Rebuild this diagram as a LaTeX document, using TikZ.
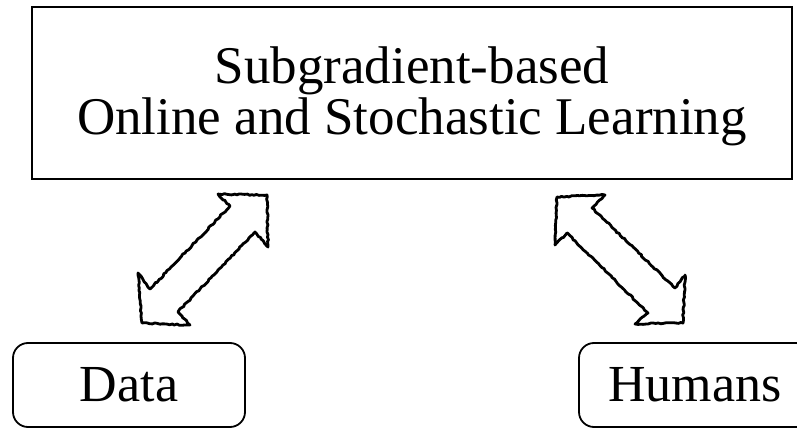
\documentclass[tikz,border=0pt]{standalone}
\usepackage{fontspec}
\setmainfont{Liberation Serif}
\usetikzlibrary{decorations.pathmorphing}
\tikzset{
  mainbox/.style={draw, line width=2.6pt, minimum width=760pt, minimum height=172pt,
    inner sep=0pt},
  titletext/.style={align=center, inner sep=0pt, font=\fontsize{53}{51}\selectfont},
  leafbox/.style={draw, line width=1.8pt, rounded corners=15pt, minimum width=232pt,
    minimum height=84pt, inner sep=0pt, font=\fontsize{52}{52}\selectfont},
  sketch/.style={draw, line width=2.8pt, line join=round,
    decorate, decoration={random steps, segment length=2.5pt, amplitude=0.7pt}}
}
\begin{document}
\begin{tikzpicture}[x=1pt, y=-1pt]
  \useasboundingbox (0,0) rectangle (797,430);

  \node[mainbox] (learn) at (412,93) {};
  \node[titletext] (title) at (412,96.5) {Subgradient-based\\Online and Stochastic Learning};
  \node[leafbox] (data) at (129,385) {Data};
  \node[leafbox] (humans) at (695,385) {Humans};

  % hollow double arrow between the learner and the data
  \path[sketch] (267,195) -- (218,194) -- (230,206) -- (150,289) -- (138,273)
    -- (142,323) -- (190,325) -- (178,312) -- (255,232) -- (268,247) -- cycle;

  % hollow double arrow between the learner and the humans
  \path[sketch] (557,197) -- (605,195) -- (592,208) -- (675,288) -- (685,275)
    -- (683,323) -- (635,324) -- (648,313) -- (567,233) -- (555,245) -- cycle;
\end{tikzpicture}
\end{document}
